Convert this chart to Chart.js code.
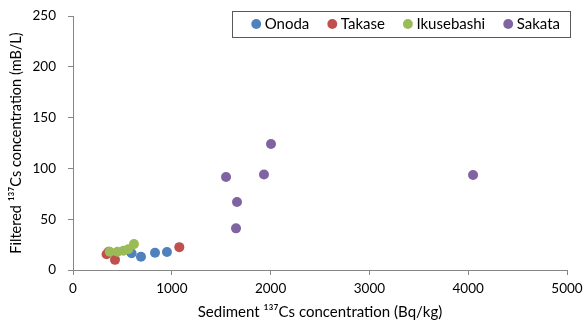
<!DOCTYPE html>
<html>
<head>
<meta charset="utf-8">
<script src="https://cdn.jsdelivr.net/npm/chart.js@4"></script>
<style>
html,body{margin:0;padding:0;background:#fff;}
#wrap{width:585px;height:325px;}
</style>
</head>
<body>
<div id="wrap"><canvas id="c" width="585" height="325"></canvas></div>
<script>
const seriesNames = ["Onoda", "Takase", "Ikusebashi", "Sakata"];
const onodaX = [593, 688, 830, 951];
const onodaY = [16.4, 13, 17, 17.7];
const takaseX = [340, 362, 425, 1076];
const takaseY = [15.5, 18, 10, 22.5];
const ikusebashiX = [372, 450, 510, 560, 617];
const ikusebashiY = [18, 18, 19, 20.5, 25.5];
const sakataX = [1549, 1650, 1660, 1933, 2004, 4049];
const sakataY = [91.5, 41, 67, 94, 124, 93.5];
const xTicks = [0, 1000, 2000, 3000, 4000, 5000];
const yTicks = [0, 50, 100, 150, 200, 250];
const colors = ["#4F81BD", "#C0504D", "#9BBB59", "#8064A2"];

function pts(xs, ys){ return xs.map((x,i)=>({x:x, y:ys[i]})); }
const allX = [onodaX, takaseX, ikusebashiX, sakataX];
const allY = [onodaY, takaseY, ikusebashiY, sakataY];

const FONT = "Lato, 'Open Sans', sans-serif";
const LEG_PAD = 22;
const LEG_FONT = 15;

const legendOverlay = {
  id: 'legendOverlay',
  beforeUpdate(chart){
    const lg = chart.legend;
    if (lg && !lg._patched){
      const f = lg.fit.bind(lg);
      lg.fit = function(){ f(); this._realH = this.height; this.height = 0; };
      lg._patched = true;
    }
  },
  afterLayout(chart){
    const lg = chart.legend;
    if (!lg) return;
    const ca = chart.chartArea;
    const w = lg.width;
    lg.height = lg._realH;
    lg.top = ca.top + 8 - LEG_PAD - LEG_FONT/2;
    lg.bottom = lg.top + lg.height;
    lg.right = ca.right - 7 + LEG_PAD;
    lg.left = lg.right - w;
  },
  afterDraw(chart){
    const lg = chart.legend;
    if (!lg || !lg.lineWidths) return;
    const cy = lg.top + LEG_PAD + LEG_FONT/2;
    const x0 = lg.right - lg.lineWidths[0] - 23;
    const x1 = lg.right - LEG_PAD + 10;
    const y0 = cy - 13;
    const y1 = cy + 13;
    const ctx = chart.ctx;
    ctx.save();
    ctx.strokeStyle = '#595959';
    ctx.lineWidth = 1;
    ctx.strokeRect(Math.round(x0)+0.5, Math.round(y0)+0.5, Math.round(x1-x0), Math.round(y1-y0));
    ctx.restore();
  }
};

new Chart(document.getElementById('c'), {
  type: 'scatter',
  data: {
    datasets: seriesNames.map((n,i)=>({
      label: n,
      data: pts(allX[i], allY[i]),
      backgroundColor: colors[i],
      borderColor: colors[i],
      borderWidth: 0,
      pointRadius: 5,
      pointHoverRadius: 5,
      pointStyle: 'circle',
      order: 4 - i
    }))
  },
  options: {
    responsive: false,
    devicePixelRatio: 1,
    animation: false,
    layout: { padding: { top: 0, right: 0, left: 0, bottom: 0 } },
    plugins: {
      tooltip: { enabled: false },
      legend: {
        position: 'top',
        align: 'end',
        labels: {
          usePointStyle: true,
          boxWidth: 2,
          boxHeight: 7,
          padding: LEG_PAD,
          color: '#000',
          font: { family: FONT, size: LEG_FONT },
          sort: (a, b) => a.datasetIndex - b.datasetIndex
        }
      }
    },
    scales: {
      x: {
        type: 'linear',
        min: 0, max: 5000,
        afterBuildTicks: (s)=>{ s.ticks = xTicks.map(v=>({value:v})); },
        afterFit: (s)=>{ s.height = 55; s.paddingRight = 18; s.paddingLeft = 0; },
        ticks: { color: '#000', font: { family: FONT, size: 13.5 }, padding: 6, maxRotation: 0, callback: (v)=>String(v) },
        grid: { drawOnChartArea: false, drawTicks: true, tickLength: 5, color: '#868686' },
        border: { color: '#868686', width: 1 },
        title: { display: true, text: 'Sediment ¹³⁷Cs concentration (Bq/kg)', color: '#000', font: { family: FONT, size: 15 }, padding: { top: 4, bottom: 4 } }
      },
      y: {
        type: 'linear',
        min: 0, max: 250,
        afterBuildTicks: (s)=>{ s.ticks = yTicks.map(v=>({value:v})); },
        afterFit: (s)=>{ s.width = 73; s.paddingTop = 16; s.paddingBottom = 0; },
        ticks: { color: '#000', font: { family: FONT, size: 13.5 }, padding: 12, callback: (v)=>String(v) },
        grid: { drawOnChartArea: false, drawTicks: true, tickLength: 5, color: '#868686' },
        border: { color: '#868686', width: 1 },
        title: { display: true, text: 'Filtered ¹³⁷Cs concentration (mB/L)', color: '#000', font: { family: FONT, size: 14.5 }, padding: { top: 8, bottom: 8 } }
      }
    }
  },
  plugins: [legendOverlay]
});
</script>
</body>
</html>
